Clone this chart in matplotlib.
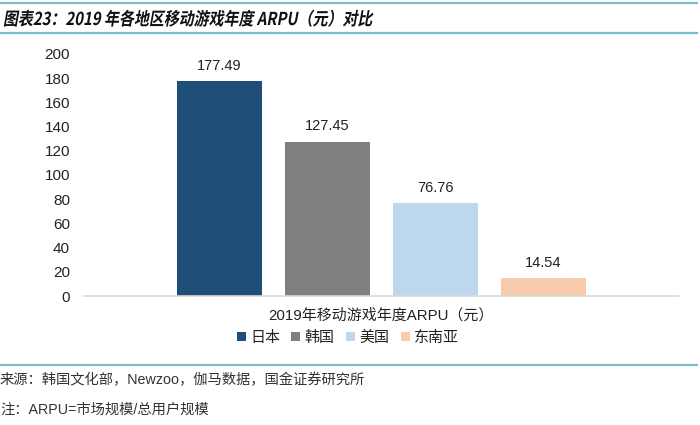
import matplotlib
matplotlib.use("Agg")
import matplotlib.pyplot as plt
import matplotlib.transforms as mtransforms
from matplotlib.textpath import TextPath
from matplotlib.patches import PathPatch
from matplotlib.font_manager import FontProperties
from matplotlib.lines import Line2D

plt.rcParams['font.family'] = ['Liberation Sans', 'Noto Sans CJK SC']

regions = ['日本', '韩国', '美国', '东南亚']
arpu = [177.49, 127.45, 76.76, 14.54]
colors = ['#1F4E79', '#7F7F7F', '#BDD7EE', '#F8CBAD']
title = '图表23：2019 年各地区移动游戏年度 ARPU（元）对比'
xlabel = '2019年移动游戏年度ARPU（元）'
source = '来源：韩国文化部，Newzoo，伽马数据，国金证券研究所'
note = '注：ARPU=市场规模/总用户规模'
yticks = [0, 20, 40, 60, 80, 100, 120, 140, 160, 180, 200]

fig = plt.figure(figsize=(7, 4.25), dpi=100)
ax = fig.add_axes([0.12, 0.3035, 0.85, 0.5695])

width = 0.787
offsets = [-1.5, -0.5, 0.5, 1.5]
bars = []
for i in range(len(regions)):
    b = ax.bar(offsets[i], arpu[i], width=width, color=colors[i], label=regions[i])
    bars.append(b)
    ax.text(offsets[i], arpu[i] + 7, f'{arpu[i]:.2f}', ha='center', va='bottom',
            fontsize=10.5, color='#222222')

ax.set_xlim(-2.755, 2.755)
ax.set_ylim(0, 200)
ax.set_yticks(yticks)
ax.tick_params(axis='y', length=0, labelsize=11, pad=10, labelcolor='#222222')
ax.set_xticks([])
for s in ['top', 'right', 'left']:
    ax.spines[s].set_visible(False)
ax.spines['bottom'].set_color('#D9D9D9')
ax.spines['bottom'].set_linewidth(1.2)

fig.text(0.5445, 0.259, xlabel, ha='center', va='center', fontsize=10.8, color='#222222')
fig.legend(handles=[b[0] for b in bars], labels=regions, loc='center',
           bbox_to_anchor=(0.497, 0.205), ncol=4, frameon=False, fontsize=10.8,
           handlelength=0.6, handleheight=0.6, handletextpad=0.3, columnspacing=0.75,
           labelcolor='#222222')

# header / footer rules
for yy in [1 - 3 / 425, 1 - 33 / 425, 1 - 365 / 425]:
    fig.add_artist(Line2D([0, 0.996], [yy, yy], transform=fig.transFigure,
                          color='#7DBDD2', lw=1.6))

# slanted bold title
fp = FontProperties(family='Noto Sans CJK SC', weight='bold')
tp = TextPath((0, 0), title, size=12.8, prop=fp)
tr = (mtransforms.Affine2D().skew_deg(12, 0).scale(0.84 / 72., 1 / 72.)
      .translate(0.03, 4.0) + fig.dpi_scale_trans)
fig.add_artist(PathPatch(tp, transform=tr, facecolor='#111111', lw=0))

fig.text(0.0, 1 - 380 / 425, source, ha='left', va='center', fontsize=10.3, color='#333333')
fig.text(0.0, 1 - 410 / 425, note, ha='left', va='center', fontsize=10.3, color='#333333')

fig.savefig('out.png', dpi=100)
